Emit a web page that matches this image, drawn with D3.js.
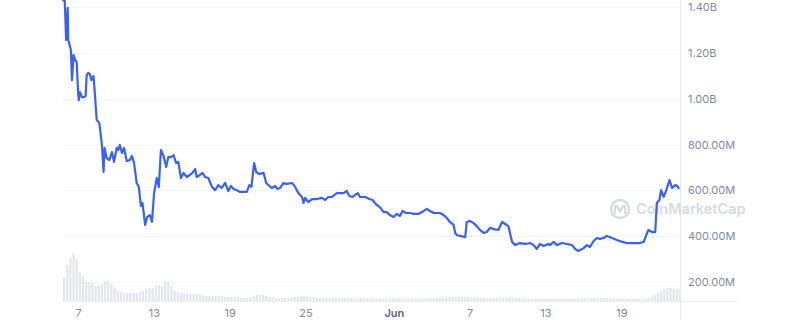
<!DOCTYPE html>
<html>
<head>
<meta charset="utf-8">
<script src="https://cdn.jsdelivr.net/npm/d3@7"></script>
<style>
  body { margin: 0; background: #fff; }
  svg { display: block; font-family: Inter, "Noto Sans", sans-serif; }
</style>
</head>
<body>
<div id="chart"></div>
<script>
// start of the series, all times below are hours from here
var startTime = "2023-05-05T19:30";
var totalHours = 1172;

// [hours from start, value in millions]
var priceSeries = [
  [0,1425],[3,1444],[6,1256],[9,1396],[10,1256],[15,1212],[17,1081],[20,1191],[23,1169],[26,1160],
  [29,1016],[30,994],[32,1029],[36,1007],[40,1007],[43,1012],[45,1103],[48,1112],[51,1108],[54,1081],
  [58,1099],[61,1007],[64,907],[69,894],[74,798],[77,680],[79,785],[83,741],[88,732],[93,767],
  [97,724],[102,785],[105,776],[108,798],[112,763],[116,785],[121,728],[127,732],[131,750],[135,719],
  [140,632],[144,615],[148,532],[151,545],[156,449],[160,484],[165,492],[169,462],[173,588],[178,654],
  [182,615],[186,776],[191,750],[196,702],[200,745],[205,745],[210,754],[215,719],[219,724],[224,654],
  [229,676],[235,658],[241,667],[246,676],[251,693],[254,658],[260,667],[265,676],[270,658],[276,654],
  [283,615],[289,601],[295,623],[301,610],[308,632],[314,597],[319,619],[324,606],[330,601],[336,593],
  [343,593],[349,593],[354,623],[358,615],[363,719],[367,680],[373,671],[381,676],[386,632],[392,619],
  [397,610],[403,619],[407,606],[412,610],[419,632],[425,628],[435,632],[441,615],[447,588],[454,571],
  [457,545],[460,567],[466,549],[473,562],[482,562],[492,567],[498,558],[504,571],[511,571],[520,588],
  [526,588],[533,588],[539,597],[544,575],[550,571],[555,580],[560,588],[564,571],[574,571],[582,562],
  [588,558],[596,536],[602,527],[609,505],[615,505],[621,492],[628,484],[634,497],[640,488],[645,510],
  [652,501],[659,501],[666,497],[675,497],[682,505],[691,519],[697,510],[704,501],[716,501],[723,492],
  [729,479],[735,462],[742,449],[745,414],[748,405],[754,401],[764,396],[767,462],[773,466],[780,457],
  [786,444],[792,427],[799,414],[805,418],[811,436],[818,431],[827,427],[834,462],[840,453],[846,444],
  [853,375],[859,361],[868,370],[878,366],[887,370],[894,361],[900,344],[906,366],[913,357],[922,366],
  [925,361],[932,375],[938,361],[948,370],[957,366],[967,361],[973,344],[979,335],[989,348],[995,361],
  [1001,353],[1008,379],[1014,392],[1020,388],[1027,392],[1033,401],[1043,392],[1052,383],[1062,375],[1071,370],
  [1084,370],[1096,370],[1103,375],[1108,405],[1112,427],[1119,418],[1125,418],[1128,545],[1133,558],[1136,601],
  [1141,571],[1146,601],[1152,645],[1157,610],[1163,623],[1167,619],[1170,606]
];

// volume, one bar every 6 hours, millions
var volumeStep = 6;
var volumes = [
  480,720,860,960,840,560,480,380,360,360, 300,300,340,400,400,340,260,200,180,160,
  160,160,160,160,180,200,240,260,260,300, 320,280,400,380,300,220,180,160,160,140,
  140,140,140,120,120,100,100,100,100,100, 100,80,80,80,80,80,60,60,60,80,
  100,120,120,120,100,80,80,60,60,60, 60,60,80,80,80,100,100,100,80,80,
  60,60,60,60,50,60,60,60,50,60,60,60,50,50,60,50,50,50,50,50,50,
  50,50,50,50,50,50,50,50,50,50,50,50,50,50,60,60,60,60,70,70,80,
  80,80,90,90,90,80,80,70,
  70,60,60,60,50,50,60,
  60,70,70,70,80,70,60,
  60,50,50,40,40,40,40,50,50,40,40,40,40,40,40,40,40,40,50,50,50,50,50,60,60,60,
  60,60,60,50,50,50,40,40,40,
  40,40,40,40,40,50,60,80,
  120,160,200,240,260,260,260,240,220
];

var priceTicks = [200, 400, 600, 800, 1000, 1200, 1400];
var dateTicks = ["2023-05-07","2023-05-13","2023-05-19","2023-05-25","2023-06-01","2023-06-07","2023-06-13","2023-06-19"];

var width = 800, height = 320;
var left = 63, right = 680, baseline = 301;

var parseTime = d3.timeParse("%Y-%m-%dT%H:%M");
var parseDay = d3.timeParse("%Y-%m-%d");
var start = parseTime(startTime);
function atHour(h) { return new Date(start.getTime() + h * 3600 * 1000); }

var x = d3.scaleTime().domain([start, atHour(totalHours)]).range([left, right]);
var y = d3.scaleLinear().domain([200, 1400]).range([282, 7]);
var yVol = d3.scaleLinear().domain([0, 2400]).range([baseline, baseline - 120]);

var svg = d3.select("#chart")
            .append("svg")
            .attr("width", width)
            .attr("height", height);

// grid
svg.append("g")
   .selectAll("line")
   .data(priceTicks)
   .enter()
   .append("line")
   .attr("x1", left)
   .attr("x2", right)
   .attr("y1", function(d) { return Math.round(y(d)) + 0.5; })
   .attr("y2", function(d) { return Math.round(y(d)) + 0.5; })
   .style("stroke", "#f3f4f6");

// volume bars
var barW = x(atHour(volumeStep)) - x(atHour(0)) - 1;
svg.append("g")
   .selectAll("rect")
   .data(volumes)
   .enter()
   .append("rect")
   .attr("x", function(d, i) { return x(atHour(i * volumeStep)); })
   .attr("y", function(d) { return yVol(d); })
   .attr("width", barW)
   .attr("height", function(d) { return baseline - yVol(d); })
   .style("fill", "#e3e5ea");

// baseline + right border
svg.append("line")
   .attr("x1", left).attr("x2", 737)
   .attr("y1", baseline + 0.5).attr("y2", baseline + 0.5)
   .style("stroke", "#eceef1");
svg.append("line")
   .attr("x1", right + 0.5).attr("x2", right + 0.5)
   .attr("y1", 0).attr("y2", height)
   .style("stroke", "#e6e8ec");

// watermark
var wm = svg.append("g").attr("transform", "translate(620,209)");
wm.append("circle").attr("r", 9).style("fill", "none").style("stroke", "#d6dbe3").style("stroke-width", 2.4);
wm.append("path")
  .attr("d", "M-5,4 L-5,-1 Q-5,-5 -2.5,-2 L0,2.5 L2.5,-2 Q5,-5 5,-1 L5,4")
  .style("fill", "none").style("stroke", "#d6dbe3").style("stroke-width", 2.2)
  .style("stroke-linejoin", "round").style("stroke-linecap", "round");
svg.append("text")
   .attr("x", 636).attr("y", 214)
   .style("font-size", "14.5px").style("font-weight", 600)
   .style("fill", "#d6dbe3")
   .text("CoinMarketCap");

// price line
var line = d3.line()
             .x(function(d) { return x(atHour(d[0])); })
             .y(function(d) { return y(d[1]); });
svg.append("path")
   .datum(priceSeries)
   .attr("d", line)
   .style("fill", "none")
   .style("stroke", "#3861fb")
   .style("stroke-width", 2.2)
   .style("stroke-linejoin", "round");

// right axis
function fmtPrice(v) {
  return v >= 1000 ? (v / 1000).toFixed(2) + "B" : v.toFixed(2) + "M";
}
var ay = svg.append("g")
            .attr("transform", "translate(" + right + ",0)")
            .call(d3.axisRight(y).tickValues(priceTicks).tickSize(0).tickPadding(8).tickFormat(fmtPrice));
ay.select(".domain").remove();
ay.selectAll("text").style("font-size", "11px").style("fill", "#808a9d").style("font-family", "Inter, sans-serif");

// bottom axis
var ax = svg.append("g")
            .attr("transform", "translate(0," + baseline + ")")
            .call(d3.axisBottom(x)
                    .tickValues(dateTicks.map(parseDay))
                    .tickSize(0)
                    .tickPadding(8)
                    .tickFormat(function(d) { return d.getDate() === 1 ? d3.timeFormat("%b")(d) : d.getDate(); }));
ax.select(".domain").remove();
ax.selectAll("text")
  .style("font-size", "11px")
  .style("font-family", "Inter, sans-serif")
  .style("fill", function(d) { return d.getDate() === 1 ? "#58667e" : "#808a9d"; })
  .style("font-weight", function(d) { return d.getDate() === 1 ? 600 : 400; });
</script>
</body>
</html>
